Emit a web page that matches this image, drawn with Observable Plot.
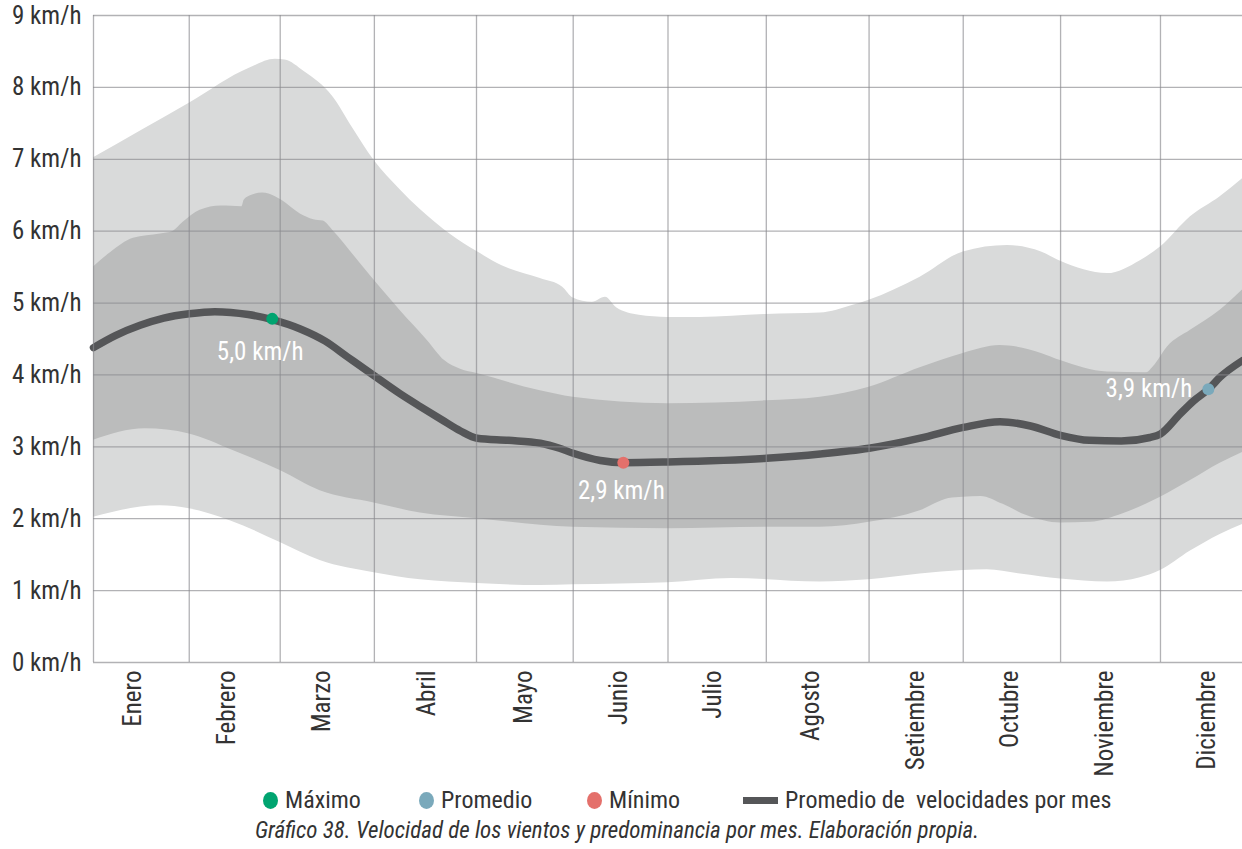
<!DOCTYPE html>
<html>
<head>
<meta charset="utf-8">
<script src="https://cdn.jsdelivr.net/npm/d3@7"></script>
<script src="https://cdn.jsdelivr.net/npm/@observablehq/plot@0.6"></script>
<style>
  html, body { margin: 0; padding: 0; background: #fff; }
  #wrap { position: relative; width: 1242px; height: 849px; overflow: hidden; }
  #chart { position: absolute; left: 0; top: 0; }
  .leg { position: absolute; top: 785px; height: 30px; display: flex; align-items: center; font-size: 24px; color: #333; white-space: nowrap; }
  .leg .dot { display: inline-block; width: 15px; height: 17px; border-radius: 50%; margin-right: 7px; }
  .leg .sw { display: inline-block; width: 35px; height: 7px; background: #555658; margin-right: 7px; }
  .leg .lab { display: inline-block; transform-origin: left center; }
  #caption { position: absolute; top: 817px; left: 0; width: 1234px; text-align: center; font-size: 23px; font-style: italic; color: #333; white-space: nowrap; }
  #caption span { display: inline-block; transform-origin: center center; }
</style>
</head>
<body>
<div id="wrap">
  <div id="chart"></div>
  <div id="legend"></div>
  <div id="caption"></div>
</div>
<script>
// ---------- data ----------
const months = ["Enero","Febrero","Marzo","Abril","Mayo","Junio","Julio","Agosto","Setiembre","Octubre","Noviembre","Diciembre"];
const yTicks = [0,1,2,3,4,5,6,7,8,9];
// x positions are days since 1 January
const gridDays  = [0, 30, 58.5, 88, 120, 150.3, 180, 210.8, 243, 272.5, 303, 334.3];   // month dividers
const labelDays = [12.3, 41.8, 71.6, 104.4, 135, 164.6, 194, 224.7, 257.8, 287, 317, 349]; // month labels

const avgDays = [0, 7, 14.6, 22, 30, 38, 48.5, 56, 64.8, 72.6, 79.6, 87.9, 96, 102.4, 109, 115, 120.2, 130, 140, 146, 150.3, 158.8, 166, 180, 210.8, 227.7, 243, 259, 272.5, 284, 293.6, 303, 312, 322, 331, 334.3, 340.5, 344.7, 349.3, 353, 360];
const avgVals = [4.38, 4.55, 4.69, 4.79, 4.85, 4.88, 4.84, 4.77, 4.64, 4.47, 4.25, 3.99, 3.74, 3.56, 3.38, 3.22, 3.12, 3.09, 3.05, 2.98, 2.91, 2.81, 2.78, 2.79, 2.84, 2.9, 2.98, 3.12, 3.27, 3.35, 3.29, 3.16, 3.09, 3.08, 3.13, 3.18, 3.46, 3.64, 3.8, 3.97, 4.2];

const maxDays = [0, 15, 30, 49, 57, 60, 66, 75, 81, 88, 96, 102.4, 112, 120, 128, 140, 147, 150.3, 156.3, 160.4, 164, 171, 180, 190, 210.8, 227.7, 238, 243, 259, 272.5, 286.4, 297, 303, 317.7, 328, 334.3, 343.7, 353, 360];
const maxVals = [7.02, 7.4, 7.78, 8.27, 8.39, 8.38, 8.22, 7.87, 7.45, 6.98, 6.58, 6.3, 5.95, 5.72, 5.52, 5.34, 5.22, 5.07, 5.01, 5.08, 4.93, 4.83, 4.8, 4.8, 4.84, 4.86, 4.97, 5.04, 5.36, 5.71, 5.8, 5.71, 5.58, 5.41, 5.59, 5.78, 6.2, 6.48, 6.73];

const upDays = [0, 5.3, 12.5, 21, 25, 28, 33.4, 40, 46.5, 47.2, 49, 53, 57, 59, 64.8, 69, 72, 75, 83.6, 89.8, 96, 104.6, 110, 115, 120.2, 140, 150.3, 180, 210.8, 227.7, 243, 259, 272.5, 284, 297, 303, 317.7, 330, 332, 336.5, 343.7, 353, 360];
const upVals = [5.5, 5.7, 5.9, 5.96, 6.0, 6.12, 6.29, 6.35, 6.34, 6.43, 6.49, 6.53, 6.48, 6.43, 6.24, 6.16, 6.14, 6.01, 5.55, 5.22, 4.9, 4.48, 4.2, 4.08, 4.02, 3.78, 3.69, 3.6, 3.64, 3.69, 3.83, 4.1, 4.3, 4.41, 4.3, 4.2, 4.04, 4.03, 4.11, 4.39, 4.62, 4.9, 5.18];

const lowDays = [0, 16.2, 30, 43.7, 58.5, 71, 87.9, 102.4, 120.2, 150.3, 180, 210.8, 227.7, 243, 259, 268, 272.5, 278, 285, 292.6, 303, 312.4, 322.6, 334.3, 343.7, 353, 360];
const lowVals = [3.09, 3.25, 3.18, 2.95, 2.67, 2.39, 2.22, 2.08, 2.0, 1.88, 1.86, 1.88, 1.88, 1.95, 2.11, 2.28, 2.3, 2.31, 2.2, 2.04, 1.94, 1.95, 2.07, 2.3, 2.53, 2.77, 2.92];

const minDays = [0, 20.9, 30, 43, 58.5, 71, 87.9, 102.4, 120.2, 140, 150.3, 180, 200, 227.7, 243, 259, 272.5, 280, 290.4, 303, 317.7, 328, 334.3, 343.7, 353, 360];
const minVals = [2.02, 2.18, 2.14, 1.97, 1.67, 1.42, 1.25, 1.15, 1.1, 1.07, 1.08, 1.11, 1.17, 1.12, 1.15, 1.23, 1.28, 1.29, 1.23, 1.16, 1.12, 1.18, 1.28, 1.55, 1.78, 1.92];

const markDays   = [56, 166, 349.3];
const markVals   = [4.78, 2.78, 3.8];
const markLabels = ["5,0 km/h", "2,9 km/h", "3,9 km/h"];
const markColors = ["#00a470", "#e4706b", "#7aa9bb"];
const legendLabels = ["Máximo", "Promedio", "Mínimo", "Promedio de  velocidades por mes"];
const legendColors = ["#00a470", "#7aa9bb", "#e4706b", "#555658"];
const captionText = "Gráfico 38. Velocidad de los vientos y predominancia por mes. Elaboración propia.";

// ---------- font selection ----------
function fontAvailable(name) {
  const c = document.createElement("canvas").getContext("2d");
  const s = "mmmmmmmmmmlli 0123456789 km/h WQ";
  return ["monospace", "serif"].some(b => {
    c.font = `40px ${b}`; const w0 = c.measureText(s).width;
    c.font = `40px "${name}", ${b}`; return c.measureText(s).width !== w0;
  });
}
const condensed = ["Roboto Condensed", "Liberation Sans Narrow", "Arial Narrow", "DejaVu Sans Condensed"].find(fontAvailable);
const family = condensed ? `"${condensed}"` : "Roboto, 'Liberation Sans', sans-serif";
const squeeze = condensed ? 1 : 0.86;

// ---------- build ----------
const t0 = Date.UTC(2021, 0, 1);
const day = d => new Date(t0 + d * 864e5);
const series = (days, vals) => days.map((d, i) => ({date: day(d), v: vals[i]}));

const avg = series(avgDays, avgVals);
const mx = series(maxDays, maxVals);
const up = series(upDays, upVals);
const lo = series(lowDays, lowVals);
const mn = series(minDays, minVals);
const marks = markDays.map((d, i) => ({date: day(d), v: markVals[i], label: markLabels[i], color: markColors[i]}));

const gridDates = gridDays.map(day);
const labelDates = labelDays.map(day);

const light = "#d9dada", dark = "#bbbcbc";
const curve = "monotone-x";
const A = (data, fill) => Plot.areaY(data, {x: "date", y: "v", fill, curve});

const chart = Plot.plot({
  width: 1242, height: 776,
  marginLeft: 93, marginRight: 0, marginTop: 15, marginBottom: 114,
  style: {fontFamily: family, background: "white", overflow: "visible"},
  x: {type: "utc", domain: [day(0), day(360)]},
  y: {domain: [0, 9]},
  marks: [
    A(mx, light),
    A(up, dark),
    A(lo, light),
    A(mn, "white"),
    Plot.line(avg, {x: "date", y: "v", stroke: "#555658", strokeWidth: 7.5, curve}),
    Plot.ruleY(yTicks, {stroke: "#8a8a8f", strokeOpacity: 0.66, strokeWidth: 1.3}),
    Plot.ruleX(gridDates, {stroke: "#8a8a8f", strokeOpacity: 0.66, strokeWidth: 1.3}),
    Plot.dot(marks, {x: "date", y: "v", r: 6, fill: "color", stroke: null}),
    Plot.text(marks.slice(0, 1), {x: "date", y: "v", text: "label", fill: "white", fontSize: 25, dx: -12, dy: 33}),
    Plot.text(marks.slice(1, 2), {x: "date", y: "v", text: "label", fill: "white", fontSize: 25, dx: -2, dy: 28}),
    Plot.text(marks.slice(2, 3), {x: "date", y: "v", text: "label", fill: "white", fontSize: 25, dx: -16, textAnchor: "end"}),
    Plot.axisY(yTicks, {tickSize: 0, tickPadding: 12, fontSize: 25, fill: "#333", tickFormat: d => `${d} km/h`, label: null}),
    Plot.axisX(labelDates, {tickSize: 0, tickPadding: 8, tickRotate: -90, fontSize: 25, fill: "#333", tickFormat: (d, i) => months[i], label: null})
  ]
});
document.getElementById("chart").appendChild(chart);

if (squeeze !== 1) {
  chart.querySelectorAll("text").forEach(t => {
    const L = t.getComputedTextLength();
    if (L > 0) { t.setAttribute("textLength", (L * squeeze).toFixed(2)); t.setAttribute("lengthAdjust", "spacingAndGlyphs"); }
  });
}

// ---------- legend ----------
const legendLeft = [263, 419, 587, 743];
const legend = document.getElementById("legend");
legendLabels.forEach((lab, i) => {
  const item = document.createElement("div");
  item.className = "leg";
  item.style.left = legendLeft[i] + "px";
  item.style.fontFamily = family;
  const sym = document.createElement("span");
  sym.className = i < 3 ? "dot" : "sw";
  sym.style.background = legendColors[i];
  const txt = document.createElement("span");
  txt.className = "lab";
  txt.textContent = lab;
  txt.style.whiteSpace = "pre";
  txt.style.transform = `scaleX(${squeeze})`;
  item.appendChild(sym); item.appendChild(txt);
  legend.appendChild(item);
});

const cap = document.getElementById("caption");
cap.style.fontFamily = family;
const cs = document.createElement("span");
cs.textContent = captionText;
cs.style.transform = `scaleX(${squeeze})`;
cap.appendChild(cs);
</script>
</body>
</html>
